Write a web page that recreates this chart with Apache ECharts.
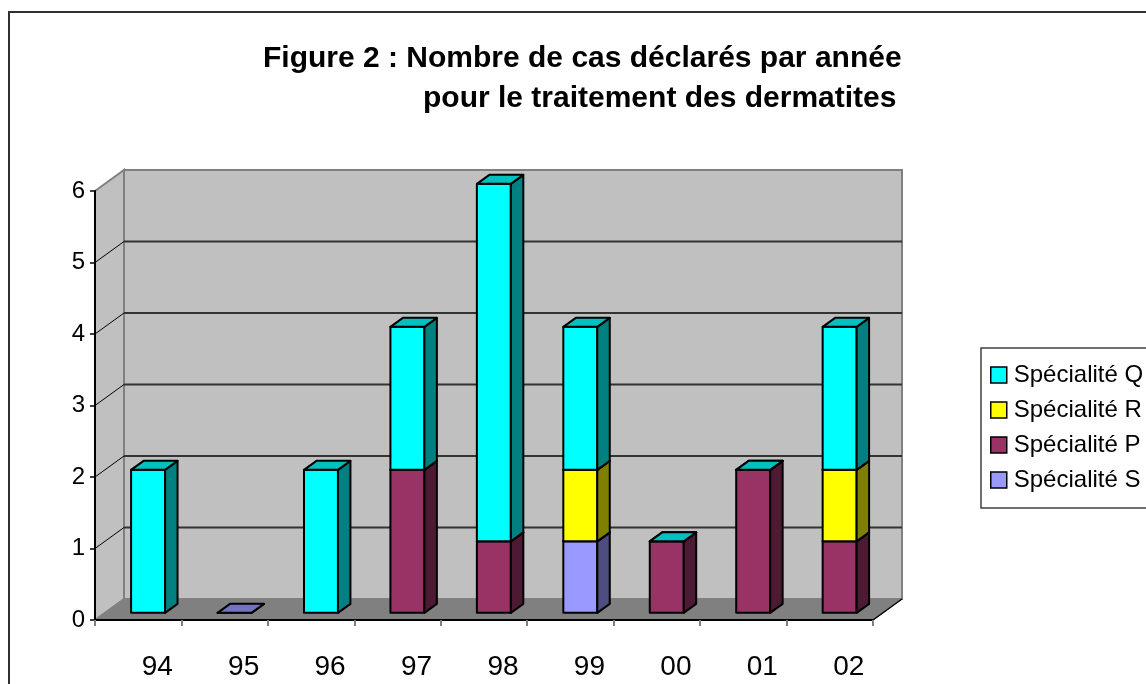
<!DOCTYPE html>
<html>
<head>
    <meta charset="UTF-8">
    <title>Figure 2 : Nombre de cas déclarés par année</title>
    <script src="https://cdn.jsdelivr.net/npm/echarts/dist/echarts.min.js"></script>
    <style>
        html, body { margin: 0; padding: 0; background: #fff; }
    </style>
</head>
<body>
<div id="main" style="width: 1146px;height:684px;"></div>
<script type="text/javascript">
    // données
    const years = ['94', '95', '96', '97', '98', '99', '00', '01', '02'];
    const specS = [null, 0, null, null, null, 1, null, null, null];
    const specP = [null, null, null, 2, 1, null, 1, 2, 1];
    const specR = [null, null, null, null, null, 1, null, null, 1];
    const specQ = [2, null, 2, 2, 5, 2, 0, 0, 2];
    const yTicks = [0, 1, 2, 3, 4, 5, 6];

    // couleurs : face avant, côté, dessus
    const colS = ['#9999FF', '#4D4D80', '#7373BF'];
    const colP = ['#993366', '#4D1A33', '#732650'];
    const colR = ['#FFFF00', '#808000', '#C0C000'];
    const colQ = ['#00FFFF', '#008080', '#00C0C0'];

    // décalage de profondeur (pseudo 3D)
    const DX = 29, DY = -21;
    const D0 = 0.34, D1 = 0.77;
    const BAR_W = 0.393;

    // empilement : S en bas, puis P, R, Q
    let base = years.map(() => 0);
    function stackData(arr) {
        let out = [];
        arr.forEach((v, i) => {
            if (v === null) return;
            out.push([i, base[i], v]);
            base[i] += v;
        });
        return out;
    }
    const dataS = stackData(specS);
    const dataP = stackData(specP);
    const dataR = stackData(specR);
    const dataQ = stackData(specQ);

    function barRenderer(cols) {
        return function (params, api) {
            let c = api.coord([api.value(0), api.value(1)]);
            let t = api.coord([api.value(0), api.value(1) + api.value(2)]);
            let bw = api.size([1, 0])[0];
            let w = bw * BAR_W;
            let ox = DX * D0, oy = DY * D0;
            let ddx = DX * (D1 - D0), ddy = DY * (D1 - D0);
            let left = c[0] - w / 2 + ox, right = c[0] + w / 2 + ox;
            let bottom = c[1] + oy, top = t[1] + oy;
            let border = {stroke: '#000', lineWidth: 2, lineJoin: 'round'};
            return {
                type: 'group',
                children: [
                    {
                        type: 'rect',
                        shape: {x: left, y: top, width: w, height: bottom - top},
                        style: Object.assign({fill: cols[0]}, border)
                    },
                    {
                        type: 'polygon',
                        shape: {points: [[right, top], [right + ddx, top + ddy], [right + ddx, bottom + ddy], [right, bottom]]},
                        style: Object.assign({fill: cols[1]}, border)
                    },
                    {
                        type: 'polygon',
                        shape: {points: [[left, top], [right, top], [right + ddx, top + ddy], [left + ddx, top + ddy]]},
                        style: Object.assign({fill: cols[2]}, border)
                    }
                ]
            };
        };
    }

    function wallRenderer(params, api) {
        let cs = params.coordSys;
        let x0 = cs.x, x1 = cs.x + cs.width;
        let yTop = api.coord([0, yTicks[yTicks.length - 1]])[1];
        let yBot = api.coord([0, 0])[1];
        let children = [
            {
                type: 'rect',
                shape: {x: x0 + DX, y: yTop + DY, width: x1 - x0, height: yBot - yTop},
                style: {fill: '#C0C0C0', stroke: '#808080', lineWidth: 2}
            },
            {
                type: 'polygon',
                shape: {points: [[x0, yTop], [x0 + DX, yTop + DY], [x0 + DX, yBot + DY], [x0, yBot]]},
                style: {fill: '#C0C0C0', stroke: '#808080', lineWidth: 2}
            },
            {
                type: 'polygon',
                shape: {points: [[x0, yBot], [x1, yBot], [x1 + DX, yBot + DY], [x0 + DX, yBot + DY]]},
                style: {fill: '#808080', stroke: '#808080', lineWidth: 1}
            },
            {
                type: 'line',
                shape: {x1: x1, y1: yBot, x2: x1 + DX, y2: yBot + DY},
                style: {stroke: '#000', lineWidth: 1.5}
            }
        ];
        yTicks.forEach(v => {
            if (v === 0 || v === yTicks[yTicks.length - 1]) return;
            let y = api.coord([0, v])[1];
            children.push({
                type: 'line',
                shape: {x1: x0 + DX, y1: y + DY, x2: x1 + DX, y2: y + DY},
                style: {stroke: '#333', lineWidth: 2}
            });
            children.push({
                type: 'line',
                shape: {x1: x0, y1: y, x2: x0 + DX, y2: y + DY},
                style: {stroke: '#000', lineWidth: 1}
            });
        });
        return {type: 'group', children: children};
    }

    var myChart = echarts.init(document.getElementById('main'));

    let option = {
        animation: false,
        backgroundColor: '#fff',
        textStyle: {fontFamily: 'Liberation Sans, Arial, sans-serif'},
        graphic: [
            {
                type: 'rect',
                shape: {x: 9, y: 12, width: 1200, height: 720},
                style: {fill: null, stroke: '#303030', lineWidth: 2},
                z: 0
            },
            {
                type: 'text',
                left: 263,
                top: 44,
                style: {
                    text: 'Figure 2 : Nombre de cas déclarés par année',
                    font: 'bold 30px "Liberation Sans", Arial, sans-serif',
                    fill: '#000'
                }
            },
            {
                type: 'text',
                left: 423,
                top: 84,
                style: {
                    text: 'pour le traitement des dermatites',
                    font: 'bold 30px "Liberation Sans", Arial, sans-serif',
                    fill: '#000'
                }
            }
        ],
        legend: {
            orient: 'vertical',
            left: 981,
            top: 348,
            padding: [15, 10, 16, 9],
            itemGap: 11,
            itemWidth: 16,
            itemHeight: 16,
            icon: 'rect',
            borderColor: '#404040',
            borderWidth: 1.5,
            backgroundColor: '#fff',
            itemStyle: {borderColor: '#000', borderWidth: 1.5},
            textStyle: {fontSize: 24, color: '#000', padding: [0, 0, 0, 2]},
            data: ['Spécialité Q', 'Spécialité R', 'Spécialité P', 'Spécialité S']
        },
        grid: {
            left: 95,
            right: 273,
            top: 191,
            bottom: 64,
            containLabel: false
        },
        xAxis: {
            type: 'category',
            data: years,
            z: 10,
            axisLine: {lineStyle: {color: '#000', width: 2}},
            axisTick: {show: true, length: 6, lineStyle: {color: '#808080', width: 2}},
            axisLabel: {
                fontSize: 28,
                color: '#000',
                margin: 33,
                padding: [0, 0, 0, 38]
            },
            splitLine: {show: false}
        },
        yAxis: {
            type: 'value',
            min: 0,
            max: 6,
            interval: 1,
            z: 10,
            axisLine: {show: true, lineStyle: {color: '#000', width: 2}},
            axisTick: {show: true, length: 5, lineStyle: {color: '#000', width: 1.5}},
            axisLabel: {fontSize: 24, color: '#000', margin: 10},
            splitLine: {show: false}
        },
        series: [
            {
                name: 'murs',
                type: 'custom',
                silent: true,
                clip: false,
                renderItem: wallRenderer,
                data: [[0, 0]]
            },
            {
                name: 'Spécialité S',
                type: 'custom',
                clip: false,
                itemStyle: {color: colS[0]},
                renderItem: barRenderer(colS),
                encode: {x: 0, y: 2},
                data: dataS
            },
            {
                name: 'Spécialité P',
                type: 'custom',
                clip: false,
                itemStyle: {color: colP[0]},
                renderItem: barRenderer(colP),
                encode: {x: 0, y: 2},
                data: dataP
            },
            {
                name: 'Spécialité R',
                type: 'custom',
                clip: false,
                itemStyle: {color: colR[0]},
                renderItem: barRenderer(colR),
                encode: {x: 0, y: 2},
                data: dataR
            },
            {
                name: 'Spécialité Q',
                type: 'custom',
                clip: false,
                itemStyle: {color: colQ[0]},
                renderItem: barRenderer(colQ),
                encode: {x: 0, y: 2},
                data: dataQ
            }
        ]
    };

    myChart.setOption(option);
</script>
</body>
</html>
